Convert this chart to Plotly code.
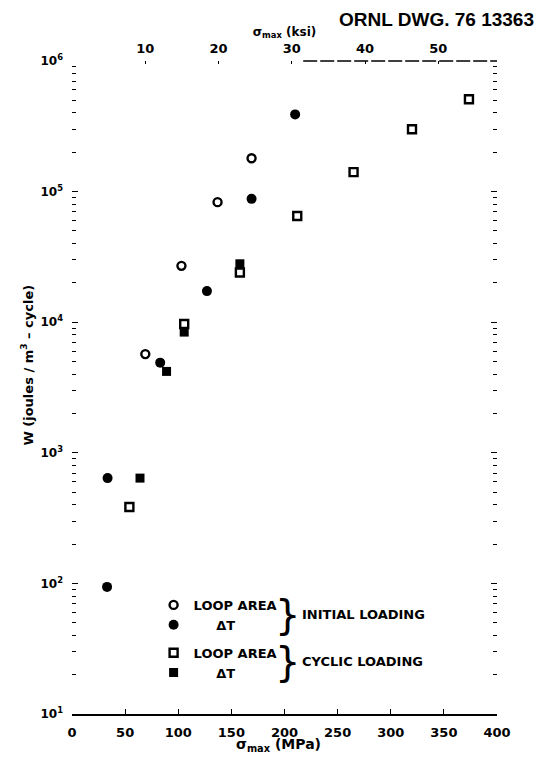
import plotly.graph_objects as go

# ---- data ----
init_loop_x = [69, 103, 137, 169]
init_loop_w = [5.7e3, 2.7e4, 8.3e4, 1.8e5]

init_dt_x = [33, 33.5, 83, 127, 169, 210]
init_dt_w = [94, 640, 4.9e3, 1.73e4, 8.8e4, 3.9e5]

cyc_loop_x = [54, 105.6, 158, 212, 265, 320, 373.6]
cyc_loop_w = [385, 9.7e3, 2.4e4, 6.5e4, 1.41e5, 3.0e5, 5.1e5]

cyc_dt_x = [64, 89, 105.6, 158]
cyc_dt_w = [640, 4.2e3, 8.4e3, 2.8e4]

x_ticks = [0, 50, 100, 150, 200, 250, 300, 350, 400]
ksi_ticks = [10, 20, 30, 40, 50]
y_ticks = [10, 100, 1e3, 1e4, 1e5, 1e6]
y_ticktext = ["10<sup>1</sup>", "10<sup>2</sup>", "10<sup>3</sup>", "10<sup>4</sup>",
              "10<sup>5</sup>", "10<sup>6</sup>"]
MPA_PER_KSI = 6.895

FONT = "Liberation Sans"
WIDE = "DejaVu Sans"
BLACK = "black"

fig = go.Figure()

fig.add_trace(go.Scatter(x=init_loop_x, y=init_loop_w, mode="markers", name="LOOP AREA",
                         legendgroup="init",
                         marker=dict(symbol="circle-open", size=8, color=BLACK, line=dict(width=2.4, color=BLACK))))
fig.add_trace(go.Scatter(x=init_dt_x, y=init_dt_w, mode="markers", name="     ΔT",
                         legendgroup="init",
                         marker=dict(symbol="circle", size=10, color=BLACK)))
fig.add_trace(go.Scatter(x=cyc_loop_x, y=cyc_loop_w, mode="markers", name="LOOP AREA",
                         legendgroup="cyc",
                         marker=dict(symbol="square-open", size=8, color=BLACK, line=dict(width=2.4, color=BLACK))))
fig.add_trace(go.Scatter(x=cyc_dt_x, y=cyc_dt_w, mode="markers", name="     ΔT",
                         legendgroup="cyc",
                         marker=dict(symbol="square", size=9, color=BLACK)))

# invisible trace for top (ksi) axis
fig.add_trace(go.Scatter(x=[0, 400 / MPA_PER_KSI], y=[10, 10], xaxis="x2", mode="markers",
                         marker=dict(opacity=0), showlegend=False, hoverinfo="skip"))

xtickfont = dict(family=WIDE, size=13, color=BLACK, weight="bold")

# figure sized so the page (with its 8px body margin) fits the 545x766 window
fig.update_layout(
    width=537, height=750,
    paper_bgcolor="white", plot_bgcolor="white",
    margin=dict(l=64, r=48, t=53, b=44),
    showlegend=True,
    legend=dict(x=0.192, y=0.19, xanchor="left", yanchor="top",
                font=dict(family=WIDE, size=13, color=BLACK, weight="bold"),
                tracegroupgap=8, bgcolor="rgba(0,0,0,0)", itemwidth=30),
    xaxis=dict(range=[0, 400], tickvals=x_ticks, showgrid=False, zeroline=False, automargin=False,
               showline=True, linecolor=BLACK, linewidth=1.5,
               ticks="inside", ticklen=5, tickcolor=BLACK, tickfont=xtickfont, ticklabelstandoff=6),
    xaxis2=dict(overlaying="x", side="top", range=[0, 400 / MPA_PER_KSI], tickvals=ksi_ticks,
                showgrid=False, zeroline=False, showline=False, automargin=False,
                ticks="inside", ticklen=3, tickcolor=BLACK, tickfont=xtickfont, ticklabelstandoff=4,
                title=dict(text="σ<sub>max</sub> (ksi)", font=dict(family=WIDE, size=12, color=BLACK, weight="bold"),
                           standoff=2)),
    yaxis=dict(type="log", range=[1, 6], showgrid=False, zeroline=False, showline=False, automargin=False,
               tickvals=y_ticks, ticktext=y_ticktext, ticklabelstandoff=8,
               ticks="inside", ticklen=6, tickcolor=BLACK, mirror="ticks",
               minor=dict(ticks="inside", ticklen=4, tickcolor=BLACK, dtick="D1"),
               tickfont=dict(family=WIDE, size=12, color=BLACK, weight="bold")),
)

# x-axis title
fig.add_annotation(text="σ<sub>max</sub> (MPa)", xref="paper", yref="paper",
                   x=0.485, y=-0.0475, showarrow=False, xanchor="center", yanchor="middle",
                   font=dict(family=WIDE, size=14, color=BLACK, weight="bold"))

# y-axis title (placed as in the drawing, above the axis centre)
fig.add_annotation(text="W (joules / m<sup>3</sup> – cycle)", xref="paper", yref="paper",
                   x=-0.106, y=0.535, textangle=-90, showarrow=False,
                   xanchor="center", yanchor="middle",
                   font=dict(family=WIDE, size=13, color=BLACK, weight="bold"))

# top frame line (partial, as in the drawing)
fig.add_shape(type="line", xref="paper", yref="paper", x0=0.544, x1=1.0, y0=1, y1=1,
              line=dict(color=BLACK, width=1.5, dash="14px,3px"))

# braces and group labels
fig.add_annotation(text="}", xref="paper", yref="paper", x=0.508, y=0.152, showarrow=False,
                   font=dict(family="DejaVu Sans", size=40, color=BLACK), xanchor="center", yanchor="middle")
fig.add_annotation(text="}", xref="paper", yref="paper", x=0.508, y=0.080, showarrow=False,
                   font=dict(family="DejaVu Sans", size=40, color=BLACK), xanchor="center", yanchor="middle")
fig.add_annotation(text="INITIAL LOADING", xref="paper", yref="paper", x=0.536, y=0.152, showarrow=False,
                   font=dict(family=WIDE, size=13, color=BLACK, weight="bold"), xanchor="left", yanchor="middle")
fig.add_annotation(text="CYCLIC LOADING", xref="paper", yref="paper", x=0.536, y=0.080, showarrow=False,
                   font=dict(family=WIDE, size=13, color=BLACK, weight="bold"), xanchor="left", yanchor="middle")

# drawing number
fig.add_annotation(text="ORNL DWG. 76 13363", xref="paper", yref="paper", x=1.0918, y=1.064,
                   showarrow=False, xanchor="right", yanchor="middle",
                   font=dict(family=FONT, size=19, color=BLACK, weight="bold"))

fig.write_html("out.html")
